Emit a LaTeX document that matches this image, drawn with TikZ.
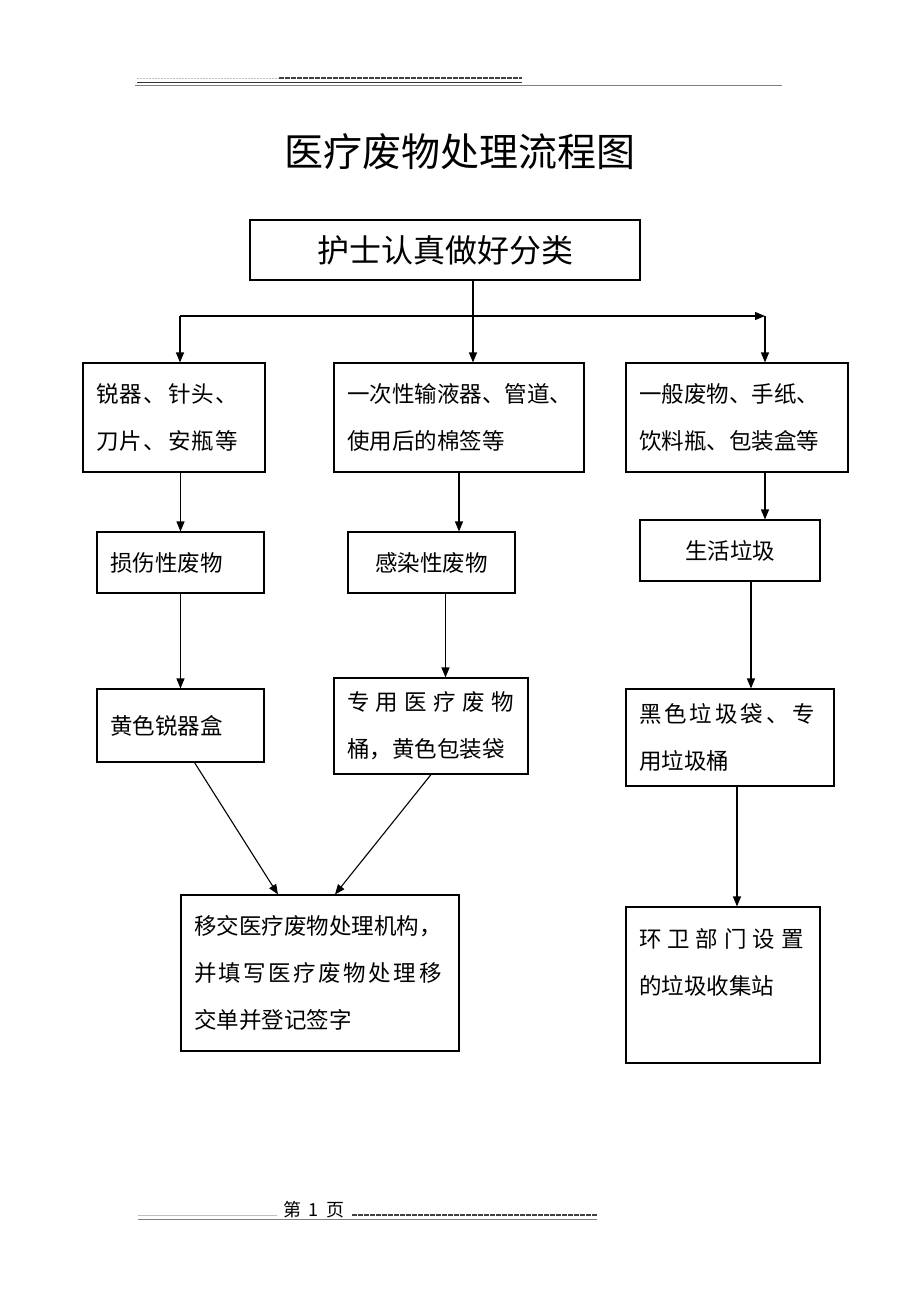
\documentclass[tikz,border=0pt]{standalone}
\usepackage{fontspec}
\setmainfont{Noto Sans CJK SC}
\usetikzlibrary{arrows.meta}
\newcommand\ks{\kern6pt}

\begin{document}
\begin{tikzpicture}[x=1pt,y=-1pt, line width=1.1pt,
		box/.style={draw, rectangle, inner xsep=13pt, inner ysep=0pt, align=left, font=\fontsize{22.5}{47}\selectfont},
		cbox/.style={box, align=center},
		arr/.style={-{Triangle[length=10pt,width=8pt]}},
		]
		\fill[white] (0,0) rectangle (920,1302);
		% header and footer rules
		\draw[gray!50, line width=0.8pt, dash pattern=on 2pt off 1pt] (137,78) -- (279,78);
		\draw[black!75, line width=1.6pt, dash pattern=on 4.5pt off 1.5pt] (279,78) -- (522,78);
		\draw[black!80, line width=1pt] (137,82.5) -- (522,82.5);
		\draw[gray, line width=0.8pt] (135,85.5) -- (782,85.5);
		\draw[gray!50, line width=0.6pt] (138,1215) -- (277,1215);
		\node[inner sep=0pt, font=\fontsize{18}{18}\selectfont] (page) at (314,1210) {第\hspace{8pt}1\hspace{8pt}页};
		\draw[black!75, line width=1.2pt, dash pattern=on 4.5pt off 1.5pt] (352,1215) -- (597,1215);
		\draw[gray, line width=1.2pt] (138,1219.5) -- (597,1219.5);
		
		\node[font=\fontsize{39}{39}\selectfont] (title) at (460,152) {医疗废物处理流程图};
		\node[draw, minimum width=390pt, minimum height=60pt, font=\fontsize{32}{32}\selectfont] (top) at (445,250) {护士认真做好分类};
		
		\node[box, text width=156pt, minimum height=109pt] (sharp) at (174,417.5) {锐\kern1.5pt 器\kern1.5pt 、\kern1.5pt 针\kern1.5pt 头\kern1.5pt 、\\刀\kern1.5pt 片\kern1.5pt 、\kern1.5pt 安\kern1.5pt 瓶\kern1.5pt 等};
		\node[box, text width=224pt, minimum height=109pt] (infus) at (459,417.5) {一次性输液器、管道、\\使用后的棉签等};
		\node[box, text width=196pt, minimum height=109pt] (general) at (737,417.5) {一般废物、手纸、\\饮料瓶、包装盒等};
		
		\node[box, text width=141pt, minimum height=61pt] (injury) at (180.5,562.5) {损伤性废物};
		\node[cbox, text width=141pt, minimum height=61pt] (infect) at (431.5,562.5) {感染性废物};
		\node[cbox, text width=154pt, minimum height=61pt] (living) at (730,550.5) {生活垃圾};
		
		\node[box, text width=141pt, minimum height=73pt] (yellowbox) at (180.5,725.5) {黄色锐器盒};
		\node[box, text width=168pt, minimum height=96pt] (special) at (431,726) {专\kern6.5pt 用\kern6.5pt 医\kern6.5pt 疗\kern6.5pt 废\kern6.5pt 物\\桶，黄色包装袋};
		\node[box, text width=182pt, minimum height=97pt] (blackbag) at (730,737.5) {黑\kern3pt 色\kern3pt 垃\kern3pt 圾\kern3pt 袋\kern3pt 、\kern3pt 专\\用垃圾桶};
		
		\node[box, text width=252pt, minimum height=156pt] (handover) at (320,973) {移交医疗废物处理机构，\\并\kern2.5pt 填\kern2.5pt 写\kern2.5pt 医\kern2.5pt 疗\kern2.5pt 废\kern2.5pt 物\kern2.5pt 处\kern2.5pt 理\kern2.5pt 移\\交单并登记签字};
		\node[box, text width=168pt, minimum height=156pt] (station) at (723,985) {环\ks 卫\ks 部\ks 门\ks 设\ks 置\\的垃圾收集站\\\mbox{}};
		
		\coordinate (l) at (180,316);
		\coordinate (m) at (473,316);
		\coordinate (r) at (765,316);
		\draw (m |- top.south) -- (m);
		\draw[arr] (l) -- (r);
		\draw[arr] (l) -- (l |- sharp.north);
		\draw[arr] (m) -- (m |- infus.north);
		\draw[arr] (r) -- (r |- general.north);
		
		\draw[arr] (injury.north |- sharp.south) -- (injury.north);
		\draw[arr] (infus.south) -- (infus.south |- infect.north);
		\draw[arr] (r |- general.south) -- (r |- living.north);
		
		\draw[arr] (injury.south) -- (yellowbox.north);
		\draw[arr] ([xshift=14pt]infect.south) -- ([xshift=14pt]infect.south |- special.north);
		\draw[arr] ([xshift=21pt]living.south) -- ([xshift=21pt]living.south |- blackbag.north);
		
		\draw[arr] ([xshift=14pt]yellowbox.south) -- ([xshift=-42pt]handover.north);
		\draw[arr] (special.south) -- ([xshift=15pt]handover.north);
		\draw[arr] ([xshift=7pt]blackbag.south) -- ([xshift=7pt]blackbag.south |- station.north);
	\end{tikzpicture}
\end{document}
